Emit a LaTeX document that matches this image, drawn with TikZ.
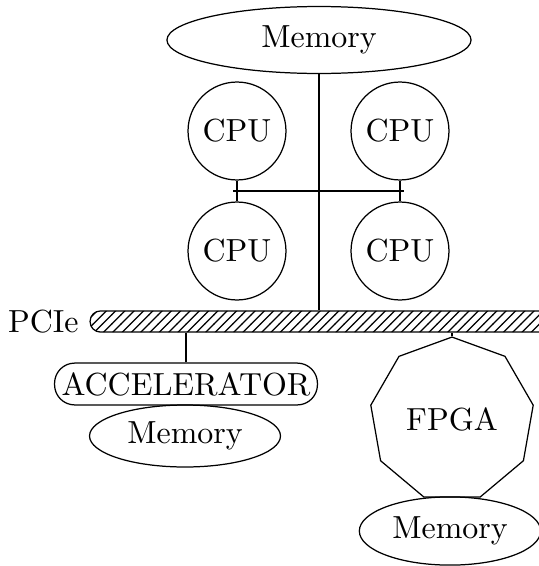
\documentclass[tikz,border=0pt]{standalone}
\usetikzlibrary{shapes.geometric,patterns,calc}
\begin{document}
\begin{tikzpicture}[x=0.3226pt,y=-0.3226pt,
  every node/.style={font=\fontsize{10.3}{12}\selectfont},
  mem/.style={draw, ellipse, inner sep=0pt},
  cpu/.style={draw, circle, minimum size=31.6pt, inner sep=0pt},
  bus/.style={draw, rounded corners=3.3pt, pattern=north east lines, minimum width=158pt, minimum height=6.8pt, inner sep=0pt},
  accel/.style={draw, rounded corners=6.5pt, minimum width=84.8pt, minimum height=13.5pt, inner sep=0pt},
  fpgabox/.style={draw, regular polygon, regular polygon sides=9, minimum size=53.2pt, inner sep=0pt},
  link/.style={draw}]
\useasboundingbox (0,0) rectangle (539,566);
\clip (0,0) rectangle (539,566);
\node[mem, minimum width=98.1pt, minimum height=21.6pt] (mtop) at (319,40) {Memory};
\node[cpu] (c1) at (237,131) {CPU};
\node[cpu] (c2) at (400,131) {CPU};
\node[cpu] (c3) at (237,251) {CPU};
\node[cpu] (c4) at (400,251) {CPU};
\node[bus] (pcie) at (335,321.5) {};
\node[anchor=east] (pl) at (pcie.west) {PCIe};
\node[accel] (acc) at (186,384) {ACCELERATOR};
\node[mem, minimum width=61.6pt, minimum height=20pt] (m2) at (185,436) {Memory};
\node[fpgabox] (fpga) at (452,419.5) {FPGA};
\node[mem, minimum width=58.5pt, minimum height=22pt] (m3) at (450,531) {Memory};
\draw[link] (mtop.south) -- (mtop.south |- pcie.north);
\draw[link] (c1.south) -- (c3.north);
\draw[link] (c2.south) -- (c4.north);
\draw[link] ($(c1.south)!.5!(c3.north)+(-4,0)$) -- ($(c2.south)!.5!(c4.north)+(4,0)$);
\draw[link] (acc.north) -- (acc.north |- pcie.south);
\draw[link] (fpga.north) -- (fpga.north |- pcie.south);
\end{tikzpicture}
\end{document}
